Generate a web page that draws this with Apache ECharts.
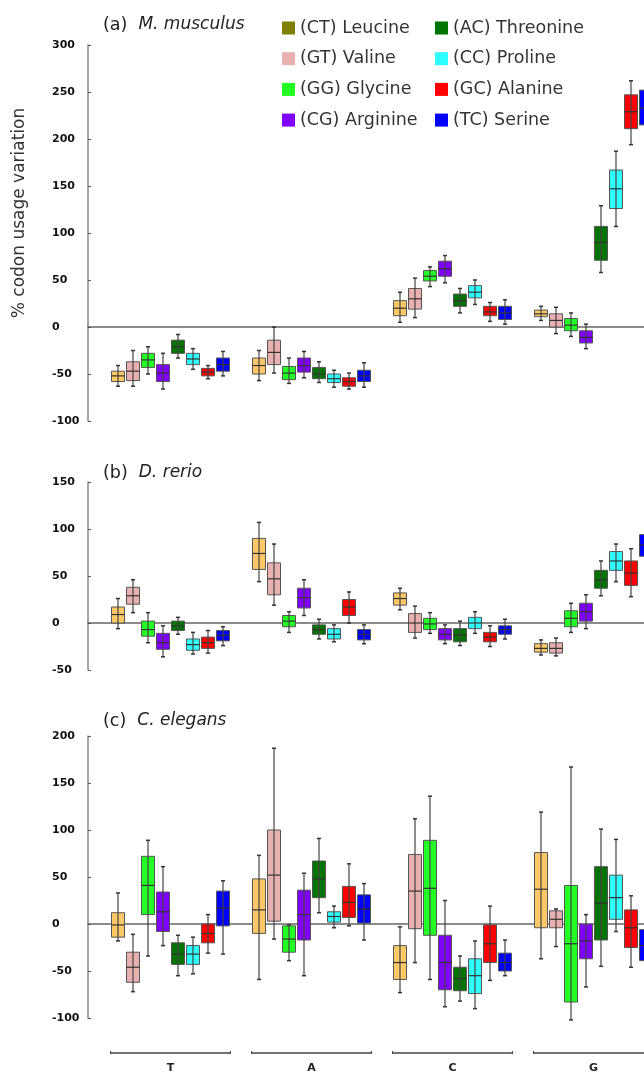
<!DOCTYPE html>
<html><head><meta charset="utf-8">
<script src="https://cdn.jsdelivr.net/npm/echarts@6/dist/echarts.min.js"></script>
<style>html,body{margin:0;padding:0;background:#fff}#c{width:644px;height:1075px}</style>
</head><body><div id="c"></div>
<script>
// ---- data ----
const categories = ['T', 'A', 'C', 'G'];
const seriesNames = ['(CT) Leucine', '(GT) Valine', '(GG) Glycine', '(CG) Arginine',
                     '(AC) Threonine', '(CC) Proline', '(GC) Alanine', '(TC) Serine'];
const boxColors = ['#FDC966', '#E9B0B0', '#22FF22', '#8000FF', '#007300', '#2EFFFF', '#FF0000', '#0000FF'];
const legendColors = ['#808000', '#E9B0B0', '#22FF22', '#8000FF', '#007300', '#2EFFFF', '#FF0000', '#0000FF'];
const panelTitles = [['(a)', 'M. musculus'], ['(b)', 'D. rerio'], ['(c)', 'C. elegans']];
const yRanges = [[-100, 300], [-50, 150], [-100, 200]];
// each box: [lower whisker, Q1, median, Q3, upper whisker], per category T, A, C, G

// (a) M. musculus
const mmLeu = [[-63,-58,-52,-47,-41], [-57,-50,-41,-33,-25], [5,12,20,28,37], [7,11,14,18,22]];
const mmVal = [[-63,-57,-47,-37,-25], [-49,-40,-27,-14,0], [10,19,30,41,52], [-7,0,7,14,21]];
const mmGly = [[-50,-43,-35,-28,-21], [-60,-56,-49,-42,-33], [43,49,54,60,64], [-10,-4,2,9,15]];
const mmArg = [[-66,-58,-49,-40,-28], [-54,-48,-41,-33,-26], [47,54,62,70,76], [-23,-17,-11,-4,3]];
const mmThr = [[-33,-28,-21,-14,-8], [-59,-55,-50,-43,-37], [15,22,28,35,41], [58,71,90,107,129]];
const mmPro = [[-45,-40,-34,-28,-23], [-64,-59,-55,-50,-46], [24,31,37,44,50], [107,126,147,167,187]];
const mmAla = [[-55,-52,-48,-44,-41], [-66,-63,-58,-54,-49], [6,12,16,22,26], [194,211,229,247,262]];
const mmSer = [[-52,-47,-40,-33,-26], [-64,-58,-52,-46,-38], [3,8,15,22,29], [199,215,233,252,276]];

// (b) D. rerio
const drLeu = [[-6,0,9,17,26], [44,57,74,90,107], [14,19,26,32,37], [-34,-31,-27,-22,-18]];
const drVal = [[11,20,29,38,46], [19,30,47,64,84], [-16,-10,0,10,18], [-35,-32,-27,-21,-16]];
const drGly = [[-21,-14,-7,2,11], [-10,-4,2,8,12], [-11,-7,-1,5,11], [-10,-4,5,13,21]];
const drArg = [[-36,-28,-21,-11,-3], [8,16,27,37,46], [-22,-18,-12,-6,-2], [-6,2,12,21,30]];
const drThr = [[-12,-8,-3,2,6], [-17,-12,-7,-2,4], [-24,-20,-13,-6,2], [29,37,46,56,66]];
const drPro = [[-33,-29,-23,-17,-10], [-20,-17,-12,-6,-2], [-11,-6,0,6,12], [44,56,66,76,84]];
const drAla = [[-32,-27,-21,-15,-8], [0,8,17,25,33], [-25,-20,-15,-10,-3], [28,40,53,66,79]];
const drSer = [[-24,-19,-13,-8,-4], [-22,-18,-12,-7,-2], [-17,-12,-7,-3,4], [60,71,83,94,105]];

// (c) C. elegans
const ceLeu = [[-18,-14,-1,12,33], [-59,-10,15,48,73], [-73,-59,-41,-23,-3], [-37,-4,37,76,119]];
const ceVal = [[-72,-62,-46,-30,-11], [-16,3,52,100,187], [-41,-5,35,74,112], [-24,-4,5,14,16]];
const ceGly = [[-34,10,41,72,89], [-39,-30,-16,-2,-1], [-59,-12,38,89,136], [-102,-83,-21,41,167]];
const ceArg = [[-23,-8,13,34,61], [-55,-17,10,36,54], [-88,-70,-41,-12,25], [-67,-37,-18,0,10]];
const ceThr = [[-55,-43,-32,-20,-12], [12,28,48,67,91], [-82,-71,-58,-46,-34], [-45,-17,22,61,101]];
const cePro = [[-53,-43,-32,-23,-14], [-4,2,8,13,19], [-90,-74,-55,-37,-18], [-8,5,28,52,90]];
const ceAla = [[-31,-20,-10,0,10], [-2,7,23,40,64], [-60,-41,-21,-1,19], [-46,-25,-4,15,30]];
const ceSer = [[-32,-2,17,35,46], [-17,1,16,31,43], [-55,-50,-41,-31,-17], [-55,-39,-23,-6,10]];

const panelData = [
  [mmLeu, mmVal, mmGly, mmArg, mmThr, mmPro, mmAla, mmSer],
  [drLeu, drVal, drGly, drArg, drThr, drPro, drAla, drSer],
  [ceLeu, ceVal, ceGly, ceArg, ceThr, cePro, ceAla, ceSer]
];

// ---- layout / style ----
const FONT = 'DejaVu Sans';
const gridTops = [45, 482, 736];
const titleTops = [8, 456, 704];
const pxPerUnitY = 0.94;
const STEP = 141;            // px per category step
const SLOT = 15 / STEP;      // box spacing as fraction of a category step
const BOXW = 13 / STEP;      // box width as fraction of a category step
const GRID_LEFT = 88;
const XMIN = -(170.5 - GRID_LEFT) / STEP;
const XMAX = XMIN + (644 - GRID_LEFT) / STEP;

const grids = [], xAxes = [], yAxes = [], series = [], titles = [];
panelData.forEach((pd, p) => {
  const [ymin, ymax] = yRanges[p];
  grids.push({ left: GRID_LEFT, right: 0, top: gridTops[p], height: (ymax - ymin) * pxPerUnitY,
               outerBoundsMode: 'none' });
  xAxes.push({
    gridIndex: p, type: 'value', min: XMIN, max: XMAX,
    axisLine: { show: true, onZero: true, lineStyle: { color: '#666', width: 1.5 } },
    axisTick: { show: false }, axisLabel: { show: false }, splitLine: { show: false }
  });
  yAxes.push({
    gridIndex: p, type: 'value', min: ymin, max: ymax, interval: 50,
    axisLine: { show: true, onZero: false, lineStyle: { color: '#888', width: 1.5 } },
    axisTick: { show: true, inside: true, length: 3, lineStyle: { color: '#555' } },
    axisLabel: { align: 'left', margin: 36, fontFamily: FONT, fontWeight: 'bold', fontSize: 11, color: '#111' },
    splitLine: { show: false }
  });
  titles.push({
    left: 98, top: titleTops[p],
    text: '{a|' + panelTitles[p][0] + '}{b|' + panelTitles[p][1] + '}',
    textStyle: { fontWeight: 'normal', rich: {
      a: { fontSize: 17.5, fontFamily: FONT, fontWeight: 'normal', color: '#222', lineHeight: 24, verticalAlign: 'middle' },
      b: { fontSize: 17, fontFamily: FONT, fontWeight: 'normal', fontStyle: 'italic', color: '#222', lineHeight: 24,
           verticalAlign: 'middle', padding: [0, 0, 0, 11] }
    } }
  });
  pd.forEach((boxes, k) => {
    series.push({
      type: 'custom', name: seriesNames[k], xAxisIndex: p, yAxisIndex: p, z: 3,
      itemStyle: { color: boxColors[k] },
      encode: { x: 0, y: [1, 2, 3, 4, 5] },
      data: boxes.map((b, g) => [g].concat(b)),
      renderItem: function (params, api) {
        const g = api.value(0);
        const unit = api.size([1, 0])[0];
        const cx = api.coord([g, 0])[0] + (k - 3.5) * unit * SLOT;
        const hw = unit * BOXW / 2;
        const Y = i => api.coord([g, api.value(i)])[1];
        const yMin = Y(1), yQ1 = Y(2), yMed = Y(3), yQ3 = Y(4), yMax = Y(5);
        const color = api.visual('color');
        return {
          type: 'group',
          children: [
            { type: 'rect', shape: { x: cx - hw, y: yQ3, width: 2 * hw, height: yQ1 - yQ3 },
              style: { fill: color, stroke: '#555', lineWidth: 1 } },
            { type: 'line', shape: { x1: cx, y1: yMax, x2: cx, y2: yMin },
              style: { stroke: '#444', lineWidth: 1.2 } },
            { type: 'line', shape: { x1: cx - hw, y1: yMed, x2: cx + hw, y2: yMed },
              style: { stroke: '#333', lineWidth: 1.2 } },
            { type: 'line', shape: { x1: cx - 2, y1: yMax, x2: cx + 2, y2: yMax },
              style: { stroke: '#333', lineWidth: 1.5 } },
            { type: 'line', shape: { x1: cx - 2, y1: yMin, x2: cx + 2, y2: yMin },
              style: { stroke: '#333', lineWidth: 1.5 } }
          ]
        };
      }
    });
  });
});

// bottom bracket axis (category bands of STEP px, centred on the box groups)
grids.push({ left: 100, width: 4 * STEP, top: 1043, height: 10, outerBoundsMode: 'none' });
xAxes.push({
  gridIndex: 3, type: 'category', data: categories,
  axisLine: { show: false }, axisTick: { show: false },
  axisLabel: { margin: 10, fontFamily: FONT, fontWeight: 'bold', fontSize: 11, color: '#222' }
});
yAxes.push({ gridIndex: 3, type: 'value', min: 0, max: 1, show: false });
series.push({
  type: 'custom', name: 'groups', xAxisIndex: 3, yAxisIndex: 3,
  data: categories.map((c, i) => [i, 0]),
  renderItem: function (params, api) {
    const pt = api.coord([api.value(0), 0]);
    const half = api.size([1, 0])[0] * 0.425;
    return {
      type: 'group',
      children: [
        { type: 'line', shape: { x1: pt[0] - half, y1: pt[1], x2: pt[0] + half, y2: pt[1] },
          style: { stroke: '#444', lineWidth: 1.5 } },
        { type: 'line', shape: { x1: pt[0] - half, y1: pt[1] - 2, x2: pt[0] - half, y2: pt[1] + 1 },
          style: { stroke: '#444', lineWidth: 1 } },
        { type: 'line', shape: { x1: pt[0] + half, y1: pt[1] - 2, x2: pt[0] + half, y2: pt[1] + 1 },
          style: { stroke: '#444', lineWidth: 1 } }
      ]
    };
  }
});

const legendText = { fontSize: 17.5, fontFamily: FONT, color: '#333', lineHeight: 17 };
const legends = [0, 1].map(col => ({
  left: col === 0 ? 282 : 435, top: 19, orient: 'vertical', padding: 0,
  itemWidth: 13, itemHeight: 13, itemGap: 13.4, icon: 'rect', selectedMode: false,
  textStyle: legendText,
  data: seriesNames.slice(col * 4, col * 4 + 4).map((n, i) => ({
    name: n, itemStyle: { color: legendColors[col * 4 + i], borderWidth: 0 }
  }))
}));
legends.forEach(l => { l.itemGap = 13.3 - 0.6; });

const chart = echarts.init(document.getElementById('c'), null, { renderer: 'canvas' });
chart.setOption({
  animation: false,
  backgroundColor: '#fff',
  title: titles,
  legend: legends,
  grid: grids,
  xAxis: xAxes,
  yAxis: yAxes,
  series: series,
  graphic: [{
    type: 'text', x: 20, y: 213, rotation: Math.PI / 2,
    style: { text: '% codon usage variation', font: '17px "DejaVu Sans"', fill: '#333',
             align: 'center', verticalAlign: 'middle' }
  }]
});
</script></body></html>
